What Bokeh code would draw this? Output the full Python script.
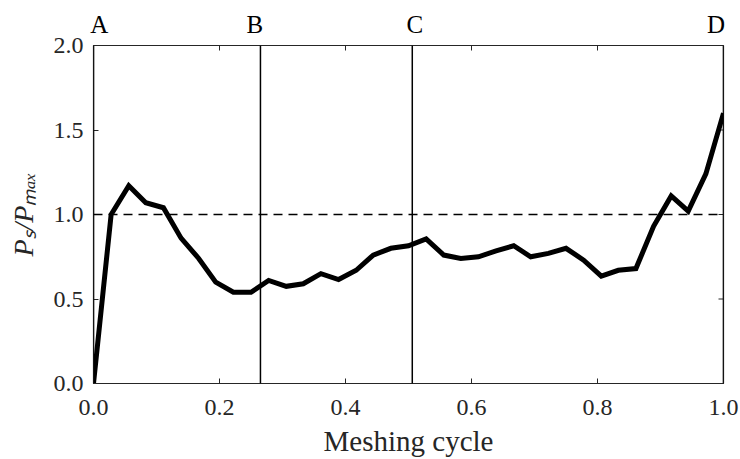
import math
from bokeh.plotting import figure
from bokeh.models import LinearAxis, FixedTicker, Span, Range1d, PrintfTickFormatter
from bokeh.embed import file_html
from bokeh.resources import INLINE

# ---- data ----
cycle = [0.0, 0.028, 0.056, 0.083, 0.111, 0.139, 0.167, 0.194, 0.222, 0.25,
         0.278, 0.306, 0.333, 0.361, 0.389, 0.417, 0.444, 0.472, 0.5, 0.528,
         0.556, 0.583, 0.611, 0.639, 0.667, 0.694, 0.722, 0.75, 0.778, 0.806,
         0.833, 0.861, 0.889, 0.917, 0.944, 0.972, 1.0]
ps_ratio = [0.0, 1.0, 1.17, 1.07, 1.04, 0.86, 0.74, 0.60, 0.54, 0.54,
            0.61, 0.575, 0.59, 0.65, 0.615, 0.67, 0.76, 0.80, 0.815, 0.855,
            0.76, 0.74, 0.75, 0.785, 0.815, 0.75, 0.77, 0.80, 0.73, 0.635,
            0.67, 0.68, 0.93, 1.11, 1.02, 1.24, 1.60]
phase_names = ["A", "B", "C", "D"]
phase_pos = [0.0, 0.265, 0.506, 1.0]
phase_label_pos = [0.009, 0.256, 0.51, 0.988]
reference_level = 1.0
x_ticks = [0.0, 0.2, 0.4, 0.6, 0.8, 1.0]
y_ticks = [0.0, 0.5, 1.0, 1.5, 2.0]
x_min, x_max = 0.0, 1.0
y_min, y_max = 0.0, 2.0

FONT = "Liberation Serif"
INK = "#262626"

p = figure(width=740, height=459, output_backend="svg", toolbar_location=None,
           x_range=Range1d(x_min, x_max), y_range=Range1d(y_min, y_max),
           min_border_left=93, min_border_right=17, min_border_top=45, min_border_bottom=71,
           x_axis_label="Meshing cycle", y_axis_label="Pₛ/Pₘₐₓ")
p.grid.visible = False
p.outline_line_color = INK
p.outline_line_width = 1.2
p.background_fill_color = "white"
p.border_fill_color = "white"

for ax, ticks in ((p.xaxis[0], x_ticks), (p.yaxis[0], y_ticks)):
    ax.ticker = FixedTicker(ticks=ticks)
    ax.formatter = PrintfTickFormatter(format="%.1f")
    ax.major_tick_in = 5
    ax.major_tick_out = 0
    ax.minor_tick_line_color = None
    ax.axis_line_color = INK
    ax.major_tick_line_color = INK
    ax.major_label_text_font = FONT
    ax.major_label_text_font_size = "24px"
    ax.major_label_text_color = INK
    ax.axis_label_text_font = FONT
    ax.axis_label_text_color = INK

p.xaxis[0].major_label_standoff = 16
p.xaxis[0].axis_label_standoff = 7
p.xaxis[0].axis_label_text_font_size = "29px"
p.xaxis[0].axis_label_text_font_style = "normal"
p.yaxis[0].major_label_standoff = 10
p.yaxis[0].axis_label_standoff = 12
p.yaxis[0].axis_label_text_font_size = "28px"
p.yaxis[0].axis_label_text_font_style = "italic"

# phase letters as a top axis
top = LinearAxis(ticker=FixedTicker(ticks=phase_label_pos),
                 major_label_overrides={v: n for v, n in zip(phase_label_pos, phase_names)},
                 major_tick_line_color=None, minor_tick_line_color=None,
                 axis_line_color=None, major_label_standoff=2,
                 major_label_text_font=FONT, major_label_text_font_size="25px",
                 major_label_text_color="black")
p.add_layout(top, "above")

# mirrored inward ticks on top and right edges
p.ray(x=x_ticks, y=[y_max] * len(x_ticks), length=5, length_units="screen",
      angle=-math.pi / 2, line_color=INK, line_width=1)
p.ray(x=[x_max] * len(y_ticks), y=y_ticks, length=5, length_units="screen",
      angle=math.pi, line_color=INK, line_width=1)

# reference level
p.add_layout(Span(location=reference_level, dimension="width", line_color="black",
                  line_width=1.5, line_dash="9 6"))

# phase markers
for pos in phase_pos:
    p.add_layout(Span(location=pos, dimension="height", line_color="black", line_width=1.5))

p.line(cycle, ps_ratio, line_color="black", line_width=5, line_join="miter")

open("out.html", "w").write(file_html(p, INLINE))
